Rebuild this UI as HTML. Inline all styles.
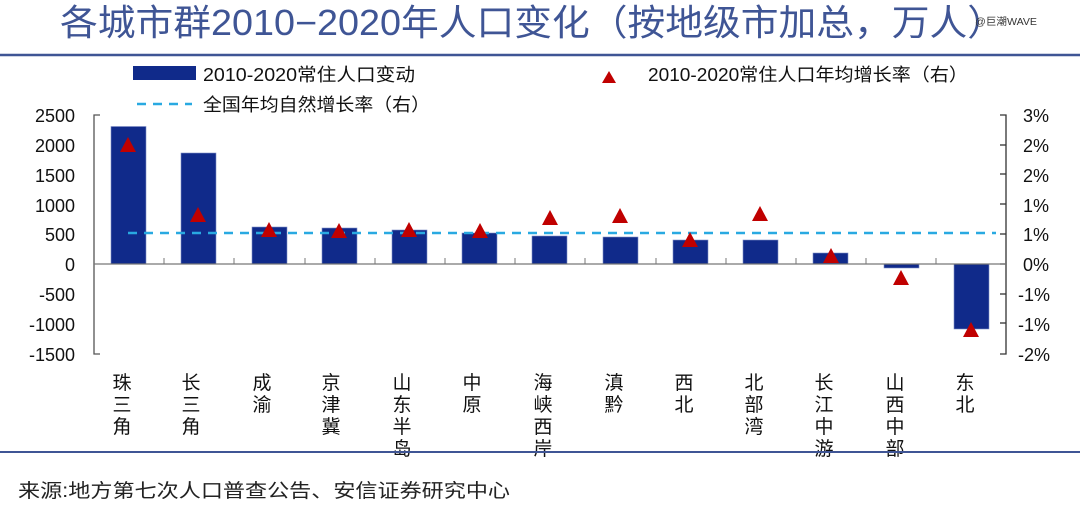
<!DOCTYPE html>
<html><head><meta charset="utf-8"><style>
body{margin:0;background:#fff;}
svg text{font-family:"Liberation Sans","Noto Sans CJK SC",sans-serif;}
</style></head><body>
<svg width="1080" height="503" viewBox="0 0 1080 503" xmlns="http://www.w3.org/2000/svg">
<text x="60" y="35" font-size="36" fill="#3f5595" textLength="945" lengthAdjust="spacingAndGlyphs">各城市群2010−2020年人口变化（按地级市加总，万人）</text>
<text x="975" y="25" font-size="10" fill="#333" textLength="62" lengthAdjust="spacingAndGlyphs">@巨潮WAVE</text>
<line x1="0" y1="55" x2="1080" y2="55" stroke="#3f5595" stroke-width="2.5"/>
<!-- legend -->
<rect x="133" y="66" width="63" height="14" fill="#102a8a"/>
<text x="203" y="81" font-size="18" fill="#111" textLength="212" lengthAdjust="spacingAndGlyphs">2010-2020常住人口变动</text>
<polygon points="609,71 616,83 602,83" fill="#c00000"/>
<text x="648" y="81" font-size="18" fill="#111" textLength="320" lengthAdjust="spacingAndGlyphs">2010-2020常住人口年均增长率（右）</text>
<line x1="137" y1="104" x2="192" y2="104" stroke="#29a9e1" stroke-width="2.5" stroke-dasharray="9,7"/>
<text x="203" y="111" font-size="18" fill="#111" textLength="227" lengthAdjust="spacingAndGlyphs">全国年均自然增长率（右）</text>
<!-- left axis -->
<path d="M100,115 H94 V354 H100" fill="none" stroke="#555" stroke-width="1.3"/>
<g font-size="18" fill="#111" text-anchor="end">
<text x="75" y="122">2500</text><text x="75" y="152">2000</text><text x="75" y="182">1500</text><text x="75" y="212">1000</text><text x="75" y="241">500</text><text x="75" y="271">0</text><text x="75" y="301">-500</text><text x="75" y="331">-1000</text><text x="75" y="361">-1500</text>
</g>
<!-- right axis -->
<path d="M1000,115 H1006 V354 H1000" fill="none" stroke="#333" stroke-width="1.3"/>
<g stroke="#333" stroke-width="1.3">
<line x1="1000" y1="145" x2="1006" y2="145"/><line x1="1000" y1="174" x2="1006" y2="174"/><line x1="1000" y1="204" x2="1006" y2="204"/><line x1="1000" y1="234" x2="1006" y2="234"/><line x1="1000" y1="264" x2="1006" y2="264"/><line x1="1000" y1="294" x2="1006" y2="294"/><line x1="1000" y1="323" x2="1006" y2="323"/>
</g>
<g font-size="18" fill="#111">
<text x="1023" y="122">3%</text><text x="1023" y="152">2%</text><text x="1023" y="182">2%</text><text x="1023" y="212">1%</text><text x="1023" y="241">1%</text><text x="1023" y="271">0%</text><text x="1018" y="301">-1%</text><text x="1018" y="331">-1%</text><text x="1018" y="361">-2%</text>
</g>
<!-- bars -->
<g fill="#102a8a" stroke="#7f8fc8" stroke-width="0.6">
<rect x="111" y="126.5" width="35" height="137.5"/>
<rect x="181" y="153" width="35" height="111"/>
<rect x="252" y="227" width="35" height="37"/>
<rect x="322" y="228" width="35" height="36"/>
<rect x="392" y="230" width="35" height="34"/>
<rect x="462" y="233" width="35" height="31"/>
<rect x="532" y="236" width="35" height="28"/>
<rect x="603" y="237" width="35" height="27"/>
<rect x="673" y="240" width="35" height="24"/>
<rect x="743" y="240" width="35" height="24"/>
<rect x="813" y="253" width="35" height="11"/>
<rect x="884" y="264" width="35" height="4"/>
<rect x="954" y="264" width="35" height="65"/>
</g>
<!-- zero line -->
<line x1="94" y1="264" x2="1006" y2="264" stroke="#777" stroke-width="1.3"/>
<g stroke="#777" stroke-width="1">
<line x1="164" y1="258" x2="164" y2="264"/><line x1="234" y1="258" x2="234" y2="264"/><line x1="305" y1="258" x2="305" y2="264"/><line x1="375" y1="258" x2="375" y2="264"/><line x1="445" y1="258" x2="445" y2="264"/><line x1="515" y1="258" x2="515" y2="264"/><line x1="585" y1="258" x2="585" y2="264"/><line x1="656" y1="258" x2="656" y2="264"/><line x1="726" y1="258" x2="726" y2="264"/><line x1="796" y1="258" x2="796" y2="264"/><line x1="866" y1="258" x2="866" y2="264"/><line x1="936" y1="258" x2="936" y2="264"/>
</g>
<!-- dashed -->
<line x1="128" y1="233" x2="996" y2="233" stroke="#29a9e1" stroke-width="2.5" stroke-dasharray="9,7"/>
<!-- triangles -->
<g fill="#c00000">
<polygon points="128,137 136,152 120,152"/>
<polygon points="198,207 206,222 190,222"/>
<polygon points="269,222 277,237 261,237"/>
<polygon points="339,223 347,238 331,238"/>
<polygon points="409,222 417,237 401,237"/>
<polygon points="480,223 488,238 472,238"/>
<polygon points="550,210 558,225 542,225"/>
<polygon points="620,208 628,223 612,223"/>
<polygon points="690,232 698,247 682,247"/>
<polygon points="760,206 768,221 752,221"/>
<polygon points="831,248 839,263 823,263"/>
<polygon points="901,270 909,285 893,285"/>
<polygon points="971,322 979,337 963,337"/>
</g>
<!-- category labels -->
<g font-size="19" fill="#111" text-anchor="middle">
<text x="122" y="389">珠</text><text x="122" y="411">三</text><text x="122" y="433">角</text>
<text x="191" y="389">长</text><text x="191" y="411">三</text><text x="191" y="433">角</text>
<text x="262" y="389">成</text><text x="262" y="411">渝</text>
<text x="331" y="389">京</text><text x="331" y="411">津</text><text x="331" y="433">冀</text>
<text x="402" y="389">山</text><text x="402" y="411">东</text><text x="402" y="433">半</text><text x="402" y="455">岛</text>
<text x="472" y="389">中</text><text x="472" y="411">原</text>
<text x="543" y="389">海</text><text x="543" y="411">峡</text><text x="543" y="433">西</text><text x="543" y="455">岸</text>
<text x="614" y="389">滇</text><text x="614" y="411">黔</text>
<text x="684" y="389">西</text><text x="684" y="411">北</text>
<text x="754" y="389">北</text><text x="754" y="411">部</text><text x="754" y="433">湾</text>
<text x="824" y="389">长</text><text x="824" y="411">江</text><text x="824" y="433">中</text><text x="824" y="455">游</text>
<text x="895" y="389">山</text><text x="895" y="411">西</text><text x="895" y="433">中</text><text x="895" y="455">部</text>
<text x="965" y="389">东</text><text x="965" y="411">北</text>
</g>
<line x1="0" y1="452" x2="1080" y2="452" stroke="#3f5595" stroke-width="2"/>
<text x="18" y="497" font-size="19" fill="#222" textLength="492" lengthAdjust="spacingAndGlyphs">来源:地方第七次人口普查公告、安信证券研究中心</text>
</svg>
</body></html>
